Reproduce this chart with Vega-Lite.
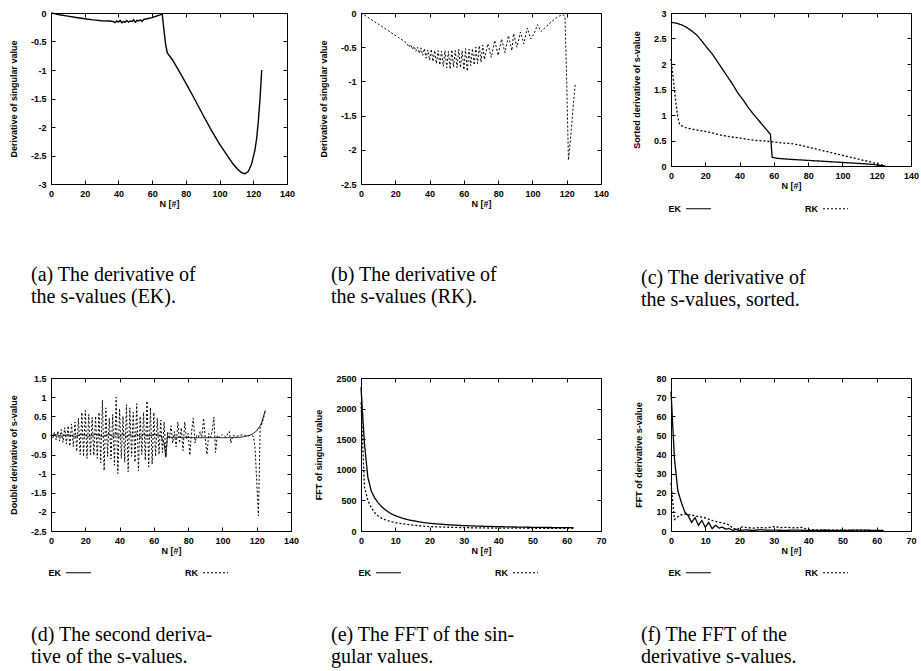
{
  "$schema": "https://vega.github.io/schema/vega-lite/v6.json",
  "padding": {"left": 8, "top": 8, "right": 2, "bottom": 2},
  "background": "white",
  "columns": 3,
  "bounds": "flush",
  "spacing": {"row": 194, "column": 70},
  "resolve": {"scale": {"strokeDash": "independent"}, "legend": {"strokeDash": "independent"}},
  "datasets": {
    "a": [{"N":0,"v":0},{"N":2,"v":-0.01},{"N":5,"v":-0.03},{"N":10,"v":-0.055},{"N":15,"v":-0.08},{"N":20,"v":-0.1},{"N":25,"v":-0.12},{"N":30,"v":-0.135},{"N":35,"v":-0.14},{"N":37,"v":-0.15},{"N":38,"v":-0.17},{"N":39,"v":-0.14},{"N":40,"v":-0.16},{"N":41,"v":-0.13},{"N":42,"v":-0.17},{"N":43,"v":-0.15},{"N":44,"v":-0.16},{"N":45,"v":-0.13},{"N":46,"v":-0.16},{"N":47,"v":-0.14},{"N":48,"v":-0.15},{"N":49,"v":-0.12},{"N":50,"v":-0.16},{"N":51,"v":-0.13},{"N":52,"v":-0.14},{"N":53,"v":-0.12},{"N":54,"v":-0.15},{"N":55,"v":-0.11},{"N":57,"v":-0.1},{"N":60,"v":-0.08},{"N":63,"v":-0.05},{"N":66,"v":-0.02},{"N":67,"v":-0.3},{"N":68,"v":-0.55},{"N":69,"v":-0.7},{"N":72,"v":-0.82},{"N":76,"v":-1.02},{"N":80,"v":-1.23},{"N":85,"v":-1.5},{"N":90,"v":-1.78},{"N":95,"v":-2.05},{"N":100,"v":-2.3},{"N":105,"v":-2.52},{"N":108,"v":-2.65},{"N":111,"v":-2.75},{"N":113,"v":-2.8},{"N":115,"v":-2.82},{"N":117,"v":-2.78},{"N":119,"v":-2.65},{"N":121,"v":-2.4},{"N":122,"v":-2.2},{"N":123,"v":-1.9},{"N":124,"v":-1.5},{"N":125,"v":-1.0}],
    "b": [{"N":0,"v":0},{"N":2,"v":-0.03},{"N":5,"v":-0.08},{"N":8,"v":-0.13},{"N":10,"v":-0.16},{"N":13,"v":-0.21},{"N":16,"v":-0.26},{"N":19,"v":-0.31},{"N":22,"v":-0.36},{"N":25,"v":-0.41},{"N":27,"v":-0.45},{"N":28,"v":-0.5},{"N":29,"v":-0.46},{"N":30,"v":-0.53},{"N":31,"v":-0.49},{"N":32,"v":-0.56},{"N":33,"v":-0.5},{"N":34,"v":-0.59},{"N":35,"v":-0.51},{"N":36,"v":-0.62},{"N":37,"v":-0.52},{"N":38,"v":-0.66},{"N":39,"v":-0.54},{"N":40,"v":-0.69},{"N":41,"v":-0.53},{"N":42,"v":-0.71},{"N":43,"v":-0.55},{"N":44,"v":-0.74},{"N":45,"v":-0.55},{"N":46,"v":-0.76},{"N":47,"v":-0.56},{"N":48,"v":-0.78},{"N":49,"v":-0.55},{"N":50,"v":-0.8},{"N":51,"v":-0.56},{"N":52,"v":-0.82},{"N":53,"v":-0.54},{"N":54,"v":-0.79},{"N":55,"v":-0.55},{"N":56,"v":-0.8},{"N":57,"v":-0.53},{"N":58,"v":-0.8},{"N":59,"v":-0.55},{"N":60,"v":-0.83},{"N":61,"v":-0.52},{"N":62,"v":-0.85},{"N":63,"v":-0.53},{"N":64,"v":-0.77},{"N":65,"v":-0.52},{"N":66,"v":-0.76},{"N":67,"v":-0.5},{"N":68,"v":-0.74},{"N":69,"v":-0.48},{"N":70,"v":-0.72},{"N":71,"v":-0.47},{"N":72,"v":-0.68},{"N":74,"v":-0.45},{"N":76,"v":-0.65},{"N":78,"v":-0.4},{"N":80,"v":-0.62},{"N":82,"v":-0.38},{"N":84,"v":-0.58},{"N":86,"v":-0.33},{"N":88,"v":-0.55},{"N":89,"v":-0.3},{"N":91,"v":-0.5},{"N":93,"v":-0.28},{"N":95,"v":-0.45},{"N":97,"v":-0.22},{"N":99,"v":-0.38},{"N":101,"v":-0.3},{"N":103,"v":-0.17},{"N":105,"v":-0.27},{"N":108,"v":-0.2},{"N":111,"v":-0.13},{"N":114,"v":-0.07},{"N":116,"v":-0.04},{"N":118,"v":-0.03},{"N":119,"v":-0.05},{"N":120,"v":-1.0},{"N":121,"v":-2.15},{"N":122,"v":-1.9},{"N":123,"v":-1.6},{"N":124,"v":-1.3},{"N":125,"v":-1.03}],
    "c": [{"s":"EK","N":0,"v":2.82},{"s":"EK","N":3,"v":2.8},{"s":"EK","N":6,"v":2.77},{"s":"EK","N":9,"v":2.72},{"s":"EK","N":12,"v":2.65},{"s":"EK","N":15,"v":2.57},{"s":"EK","N":18,"v":2.45},{"s":"EK","N":21,"v":2.32},{"s":"EK","N":24,"v":2.2},{"s":"EK","N":27,"v":2.05},{"s":"EK","N":30,"v":1.9},{"s":"EK","N":33,"v":1.75},{"s":"EK","N":36,"v":1.6},{"s":"EK","N":39,"v":1.43},{"s":"EK","N":42,"v":1.3},{"s":"EK","N":45,"v":1.15},{"s":"EK","N":48,"v":1.02},{"s":"EK","N":51,"v":0.9},{"s":"EK","N":54,"v":0.78},{"s":"EK","N":57,"v":0.66},{"s":"EK","N":58,"v":0.62},{"s":"EK","N":59,"v":0.17},{"s":"EK","N":62,"v":0.15},{"s":"EK","N":70,"v":0.13},{"s":"EK","N":80,"v":0.11},{"s":"EK","N":90,"v":0.09},{"s":"EK","N":100,"v":0.07},{"s":"EK","N":110,"v":0.05},{"s":"EK","N":118,"v":0.03},{"s":"EK","N":122,"v":0.01},{"s":"EK","N":125,"v":0.0},
      {"s":"RK","N":0,"v":2.1},{"s":"RK","N":1,"v":1.8},{"s":"RK","N":2,"v":1.5},{"s":"RK","N":3,"v":1.2},{"s":"RK","N":4,"v":0.95},{"s":"RK","N":5,"v":0.82},{"s":"RK","N":6,"v":0.79},{"s":"RK","N":8,"v":0.76},{"s":"RK","N":10,"v":0.74},{"s":"RK","N":13,"v":0.72},{"s":"RK","N":16,"v":0.7},{"s":"RK","N":20,"v":0.68},{"s":"RK","N":25,"v":0.64},{"s":"RK","N":30,"v":0.6},{"s":"RK","N":35,"v":0.57},{"s":"RK","N":40,"v":0.55},{"s":"RK","N":45,"v":0.52},{"s":"RK","N":50,"v":0.5},{"s":"RK","N":55,"v":0.49},{"s":"RK","N":60,"v":0.47},{"s":"RK","N":65,"v":0.45},{"s":"RK","N":70,"v":0.44},{"s":"RK","N":75,"v":0.41},{"s":"RK","N":80,"v":0.37},{"s":"RK","N":85,"v":0.33},{"s":"RK","N":90,"v":0.29},{"s":"RK","N":95,"v":0.25},{"s":"RK","N":100,"v":0.21},{"s":"RK","N":105,"v":0.17},{"s":"RK","N":110,"v":0.13},{"s":"RK","N":115,"v":0.09},{"s":"RK","N":120,"v":0.05},{"s":"RK","N":123,"v":0.02},{"s":"RK","N":125,"v":0.0}],
    "d": [{"s":"EK","N":0,"v":0},{"s":"EK","N":3,"v":0.02},{"s":"EK","N":6,"v":-0.02},{"s":"EK","N":10,"v":0.02},{"s":"EK","N":14,"v":-0.03},{"s":"EK","N":18,"v":0.03},{"s":"EK","N":22,"v":-0.03},{"s":"EK","N":26,"v":0.03},{"s":"EK","N":30,"v":-0.03},{"s":"EK","N":34,"v":0.04},{"s":"EK","N":36,"v":-0.04},{"s":"EK","N":38,"v":0.05},{"s":"EK","N":40,"v":-0.05},{"s":"EK","N":42,"v":0.05},{"s":"EK","N":44,"v":-0.05},{"s":"EK","N":46,"v":0.04},{"s":"EK","N":48,"v":-0.04},{"s":"EK","N":50,"v":0.04},{"s":"EK","N":52,"v":-0.04},{"s":"EK","N":54,"v":0.03},{"s":"EK","N":56,"v":-0.02},{"s":"EK","N":60,"v":0.02},{"s":"EK","N":64,"v":0.0},{"s":"EK","N":66,"v":-0.2},{"s":"EK","N":67,"v":-0.57},{"s":"EK","N":68,"v":0.0},{"s":"EK","N":69,"v":-0.05},{"s":"EK","N":75,"v":-0.05},{"s":"EK","N":85,"v":-0.06},{"s":"EK","N":95,"v":-0.06},{"s":"EK","N":105,"v":-0.06},{"s":"EK","N":110,"v":-0.05},{"s":"EK","N":113,"v":-0.03},{"s":"EK","N":116,"v":0.0},{"s":"EK","N":118,"v":0.05},{"s":"EK","N":120,"v":0.12},{"s":"EK","N":122,"v":0.25},{"s":"EK","N":123,"v":0.35},{"s":"EK","N":124,"v":0.5},{"s":"EK","N":125,"v":0.65},
      {"s":"RK","N":0,"v":0},{"s":"RK","N":1,"v":-0.08},{"s":"RK","N":2,"v":0.08},{"s":"RK","N":3,"v":-0.12},{"s":"RK","N":4,"v":0.12},{"s":"RK","N":5,"v":-0.15},{"s":"RK","N":6,"v":0.15},{"s":"RK","N":7,"v":-0.18},{"s":"RK","N":8,"v":0.2},{"s":"RK","N":9,"v":-0.22},{"s":"RK","N":10,"v":0.25},{"s":"RK","N":11,"v":-0.28},{"s":"RK","N":12,"v":0.3},{"s":"RK","N":13,"v":-0.3},{"s":"RK","N":14,"v":0.35},{"s":"RK","N":15,"v":-0.42},{"s":"RK","N":16,"v":0.45},{"s":"RK","N":17,"v":-0.5},{"s":"RK","N":18,"v":0.6},{"s":"RK","N":19,"v":-0.55},{"s":"RK","N":20,"v":0.65},{"s":"RK","N":21,"v":-0.6},{"s":"RK","N":22,"v":0.55},{"s":"RK","N":23,"v":-0.5},{"s":"RK","N":24,"v":0.47},{"s":"RK","N":25,"v":-0.52},{"s":"RK","N":26,"v":0.5},{"s":"RK","N":27,"v":-0.6},{"s":"RK","N":28,"v":0.6},{"s":"RK","N":29,"v":-0.72},{"s":"RK","N":30,"v":0.92},{"s":"RK","N":31,"v":-0.92},{"s":"RK","N":32,"v":0.72},{"s":"RK","N":33,"v":-0.55},{"s":"RK","N":34,"v":0.45},{"s":"RK","N":35,"v":-0.62},{"s":"RK","N":36,"v":0.55},{"s":"RK","N":37,"v":-0.78},{"s":"RK","N":38,"v":1.0},{"s":"RK","N":39,"v":-1.0},{"s":"RK","N":40,"v":0.7},{"s":"RK","N":41,"v":-0.6},{"s":"RK","N":42,"v":0.5},{"s":"RK","N":43,"v":-0.7},{"s":"RK","N":44,"v":0.8},{"s":"RK","N":45,"v":-0.95},{"s":"RK","N":46,"v":0.72},{"s":"RK","N":47,"v":-0.55},{"s":"RK","N":48,"v":0.6},{"s":"RK","N":49,"v":-0.7},{"s":"RK","N":50,"v":0.83},{"s":"RK","N":51,"v":-0.93},{"s":"RK","N":52,"v":0.5},{"s":"RK","N":53,"v":-0.5},{"s":"RK","N":54,"v":0.6},{"s":"RK","N":55,"v":-0.65},{"s":"RK","N":56,"v":0.9},{"s":"RK","N":57,"v":-0.82},{"s":"RK","N":58,"v":0.72},{"s":"RK","N":59,"v":-0.75},{"s":"RK","N":60,"v":0.6},{"s":"RK","N":61,"v":-0.55},{"s":"RK","N":62,"v":0.45},{"s":"RK","N":63,"v":-0.5},{"s":"RK","N":64,"v":0.4},{"s":"RK","N":65,"v":-0.45},{"s":"RK","N":66,"v":0.35},{"s":"RK","N":67,"v":-0.55},{"s":"RK","N":68,"v":0.1},{"s":"RK","N":69,"v":-0.1},{"s":"RK","N":70,"v":0.25},{"s":"RK","N":71,"v":-0.2},{"s":"RK","N":72,"v":0.1},{"s":"RK","N":73,"v":-0.3},{"s":"RK","N":74,"v":0.35},{"s":"RK","N":75,"v":-0.2},{"s":"RK","N":76,"v":0.2},{"s":"RK","N":77,"v":-0.4},{"s":"RK","N":78,"v":0.35},{"s":"RK","N":79,"v":-0.1},{"s":"RK","N":80,"v":0.05},{"s":"RK","N":81,"v":-0.52},{"s":"RK","N":82,"v":0.1},{"s":"RK","N":83,"v":0.45},{"s":"RK","N":84,"v":-0.2},{"s":"RK","N":85,"v":0.0},{"s":"RK","N":86,"v":-0.05},{"s":"RK","N":87,"v":0.1},{"s":"RK","N":88,"v":-0.05},{"s":"RK","N":89,"v":0.45},{"s":"RK","N":90,"v":-0.1},{"s":"RK","N":91,"v":-0.5},{"s":"RK","N":92,"v":0.05},{"s":"RK","N":93,"v":-0.05},{"s":"RK","N":94,"v":0.1},{"s":"RK","N":95,"v":0.48},{"s":"RK","N":96,"v":-0.45},{"s":"RK","N":97,"v":0.0},{"s":"RK","N":98,"v":-0.05},{"s":"RK","N":100,"v":0.02},{"s":"RK","N":102,"v":-0.05},{"s":"RK","N":104,"v":0.1},{"s":"RK","N":105,"v":-0.2},{"s":"RK","N":106,"v":0.0},{"s":"RK","N":108,"v":-0.03},{"s":"RK","N":110,"v":0.0},{"s":"RK","N":112,"v":0.02},{"s":"RK","N":114,"v":-0.02},{"s":"RK","N":116,"v":0.0},{"s":"RK","N":118,"v":-0.02},{"s":"RK","N":119,"v":-0.3},{"s":"RK","N":120,"v":-1.2},{"s":"RK","N":121,"v":-2.1},{"s":"RK","N":122,"v":0.2},{"s":"RK","N":123,"v":0.3},{"s":"RK","N":124,"v":0.45},{"s":"RK","N":125,"v":0.65}],
    "e": [{"s":"EK","N":0,"v":2350},{"s":"EK","N":1,"v":1430},{"s":"EK","N":2,"v":880},{"s":"EK","N":3,"v":650},{"s":"EK","N":4,"v":540},{"s":"EK","N":5,"v":460},{"s":"EK","N":6,"v":400},{"s":"EK","N":7,"v":350},{"s":"EK","N":8,"v":310},{"s":"EK","N":9,"v":275},{"s":"EK","N":10,"v":250},{"s":"EK","N":12,"v":210},{"s":"EK","N":14,"v":180},{"s":"EK","N":16,"v":160},{"s":"EK","N":18,"v":140},{"s":"EK","N":20,"v":126},{"s":"EK","N":23,"v":112},{"s":"EK","N":26,"v":100},{"s":"EK","N":30,"v":88},{"s":"EK","N":35,"v":78},{"s":"EK","N":40,"v":71},{"s":"EK","N":45,"v":65},{"s":"EK","N":50,"v":60},{"s":"EK","N":55,"v":57},{"s":"EK","N":60,"v":55},{"s":"EK","N":62,"v":55},
      {"s":"RK","N":0,"v":2100},{"s":"RK","N":1,"v":720},{"s":"RK","N":2,"v":500},{"s":"RK","N":3,"v":380},{"s":"RK","N":4,"v":300},{"s":"RK","N":5,"v":245},{"s":"RK","N":6,"v":210},{"s":"RK","N":7,"v":185},{"s":"RK","N":8,"v":165},{"s":"RK","N":9,"v":150},{"s":"RK","N":10,"v":138},{"s":"RK","N":12,"v":118},{"s":"RK","N":14,"v":103},{"s":"RK","N":16,"v":92},{"s":"RK","N":18,"v":80},{"s":"RK","N":20,"v":71},{"s":"RK","N":25,"v":62},{"s":"RK","N":30,"v":55},{"s":"RK","N":35,"v":50},{"s":"RK","N":40,"v":48},{"s":"RK","N":45,"v":46},{"s":"RK","N":50,"v":45},{"s":"RK","N":55,"v":44},{"s":"RK","N":60,"v":44},{"s":"RK","N":62,"v":44}],
    "f": [{"s":"EK","N":0,"v":73},{"s":"EK","N":1,"v":38},{"s":"EK","N":2,"v":21},{"s":"EK","N":3,"v":15},{"s":"EK","N":4,"v":10},{"s":"EK","N":5,"v":8},{"s":"EK","N":6,"v":4.5},{"s":"EK","N":7,"v":7},{"s":"EK","N":8,"v":3},{"s":"EK","N":9,"v":5.5},{"s":"EK","N":10,"v":2},{"s":"EK","N":11,"v":4.5},{"s":"EK","N":12,"v":1.2},{"s":"EK","N":13,"v":3},{"s":"EK","N":14,"v":1.5},{"s":"EK","N":15,"v":2},{"s":"EK","N":16,"v":1},{"s":"EK","N":17,"v":1.3},{"s":"EK","N":18,"v":0.3},{"s":"EK","N":19,"v":0.8},{"s":"EK","N":20,"v":0.3},{"s":"EK","N":22,"v":0.6},{"s":"EK","N":24,"v":0.3},{"s":"EK","N":26,"v":0.7},{"s":"EK","N":28,"v":0.4},{"s":"EK","N":30,"v":0.5},{"s":"EK","N":33,"v":0.3},{"s":"EK","N":36,"v":0.5},{"s":"EK","N":40,"v":0.3},{"s":"EK","N":45,"v":0.4},{"s":"EK","N":50,"v":0.3},{"s":"EK","N":55,"v":0.5},{"s":"EK","N":60,"v":0.3},{"s":"EK","N":62,"v":0.3},
      {"s":"RK","N":0,"v":25},{"s":"RK","N":1,"v":6},{"s":"RK","N":2,"v":7.5},{"s":"RK","N":3,"v":8.5},{"s":"RK","N":4,"v":8.8},{"s":"RK","N":5,"v":8.5},{"s":"RK","N":6,"v":8.3},{"s":"RK","N":7,"v":8},{"s":"RK","N":8,"v":7.5},{"s":"RK","N":9,"v":7.2},{"s":"RK","N":10,"v":6.8},{"s":"RK","N":11,"v":6.2},{"s":"RK","N":12,"v":5.5},{"s":"RK","N":13,"v":5},{"s":"RK","N":14,"v":4.6},{"s":"RK","N":15,"v":4.2},{"s":"RK","N":16,"v":3.8},{"s":"RK","N":17,"v":3.2},{"s":"RK","N":18,"v":1.5},{"s":"RK","N":19,"v":0.8},{"s":"RK","N":20,"v":1.5},{"s":"RK","N":21,"v":2.3},{"s":"RK","N":22,"v":1.8},{"s":"RK","N":24,"v":1.5},{"s":"RK","N":26,"v":1.8},{"s":"RK","N":28,"v":1.6},{"s":"RK","N":30,"v":2.3},{"s":"RK","N":32,"v":1.8},{"s":"RK","N":34,"v":1.9},{"s":"RK","N":36,"v":1.6},{"s":"RK","N":38,"v":1.9},{"s":"RK","N":40,"v":0.8},{"s":"RK","N":43,"v":0.5},{"s":"RK","N":46,"v":0.4},{"s":"RK","N":50,"v":0.4},{"s":"RK","N":55,"v":0.3},{"s":"RK","N":60,"v":0.2},{"s":"RK","N":62,"v":0.1}]
  },
  "concat": [
    {
      "width": 236, "height": 171,
      "data": {"name": "a"},
      "title": {"text": ["(a) The derivative of", "the s-values (EK)."], "dx": -20, "offset": 57},
      "layer": [
        {"mark": {"type": "line", "color": "black", "strokeWidth": 1.4},
         "encoding": {
           "x": {"field": "N", "type": "quantitative", "scale": {"domain": [0, 140]}, "axis": {"title": "N [#]", "values": [0,20,40,60,80,100,120,140]}},
           "y": {"field": "v", "type": "quantitative", "scale": {"domain": [-3, 0]}, "axis": {"title": "Derivative of singular value", "values": [-3,-2.5,-2,-1.5,-1,-0.5,0]}}
         }},
        {"mark": {"type": "line", "opacity": 0},
         "encoding": {
           "x": {"field": "N", "type": "quantitative", "scale": {"domain": [0, 140]}, "axis": {"orient": "top", "labels": false, "title": null, "values": [0,20,40,60,80,100,120,140]}},
           "y": {"field": "v", "type": "quantitative", "scale": {"domain": [-3, 0]}, "axis": {"orient": "right", "labels": false, "title": null, "values": [-3,-2.5,-2,-1.5,-1,-0.5,0]}}
         }}
      ],
      "resolve": {"axis": {"x": "independent", "y": "independent"}}
    },
    {
      "width": 240, "height": 171,
      "data": {"name": "b"},
      "title": {"text": ["(b) The derivative of", "the s-values (RK)."], "dx": -30, "offset": 57},
      "layer": [
        {"mark": {"type": "line", "color": "black", "strokeWidth": 1, "strokeDash": [2, 2]},
         "encoding": {
           "x": {"field": "N", "type": "quantitative", "scale": {"domain": [0, 140]}, "axis": {"title": "N [#]", "values": [0,20,40,60,80,100,120,140]}},
           "y": {"field": "v", "type": "quantitative", "scale": {"domain": [-2.5, 0]}, "axis": {"title": "Derivative of singular value", "values": [-2.5,-2,-1.5,-1,-0.5,0]}}
         }},
        {"mark": {"type": "line", "opacity": 0},
         "encoding": {
           "x": {"field": "N", "type": "quantitative", "scale": {"domain": [0, 140]}, "axis": {"orient": "top", "labels": false, "title": null, "values": [0,20,40,60,80,100,120,140]}},
           "y": {"field": "v", "type": "quantitative", "scale": {"domain": [-2.5, 0]}, "axis": {"orient": "right", "labels": false, "title": null, "values": [-2.5,-2,-1.5,-1,-0.5,0]}}
         }}
      ],
      "resolve": {"axis": {"x": "independent", "y": "independent"}}
    },
    {
      "width": 240, "height": 153,
      "data": {"name": "c"},
      "title": {"text": ["(c) The derivative of", "the s-values, sorted."], "dx": -30, "offset": 54},
      "layer": [
        {"mark": {"type": "line", "color": "black", "strokeWidth": 1.3},
         "encoding": {
           "x": {"field": "N", "type": "quantitative", "scale": {"domain": [0, 140]}, "axis": {"title": "N [#]", "values": [0,20,40,60,80,100,120,140]}},
           "y": {"field": "v", "type": "quantitative", "scale": {"domain": [0, 3]}, "axis": {"title": "Sorted derivative of s-value", "values": [0,0.5,1,1.5,2,2.5,3]}},
           "strokeDash": {"field": "s", "type": "nominal", "scale": {"domain": ["EK", "RK"], "range": [[1, 0], [2, 2]]}, "legend": {"title": null, "orient": "none", "legendX": 14, "legendY": 182}}
         }},
        {"mark": {"type": "line", "opacity": 0},
         "encoding": {
           "x": {"field": "N", "type": "quantitative", "scale": {"domain": [0, 140]}, "axis": {"orient": "top", "labels": false, "title": null, "values": [0,20,40,60,80,100,120,140]}},
           "y": {"field": "v", "type": "quantitative", "scale": {"domain": [0, 3]}, "axis": {"orient": "right", "labels": false, "title": null, "values": [0,0.5,1,1.5,2,2.5,3]}}
         }}
      ],
      "resolve": {"axis": {"x": "independent", "y": "independent"}}
    },
    {
      "width": 240, "height": 153,
      "data": {"name": "d"},
      "title": {"text": ["(d) The second deriva-", "tive of the s-values."], "dx": -20, "offset": 47},
      "layer": [
        {"mark": {"type": "line", "color": "black", "strokeWidth": 1},
         "encoding": {
           "x": {"field": "N", "type": "quantitative", "scale": {"domain": [0, 140]}, "axis": {"title": "N [#]", "values": [0,20,40,60,80,100,120,140]}},
           "y": {"field": "v", "type": "quantitative", "scale": {"domain": [-2.5, 1.5]}, "axis": {"title": "Double derivative of s-value", "values": [-2.5,-2,-1.5,-1,-0.5,0,0.5,1,1.5]}},
           "strokeDash": {"field": "s", "type": "nominal", "scale": {"domain": ["EK", "RK"], "range": [[1, 0], [2, 2]]}, "legend": {"title": null, "orient": "none", "legendX": 14, "legendY": 181}}
         }},
        {"mark": {"type": "line", "opacity": 0},
         "encoding": {
           "x": {"field": "N", "type": "quantitative", "scale": {"domain": [0, 140]}, "axis": {"orient": "top", "labels": false, "title": null, "values": [0,20,40,60,80,100,120,140]}},
           "y": {"field": "v", "type": "quantitative", "scale": {"domain": [-2.5, 1.5]}, "axis": {"orient": "right", "labels": false, "title": null, "values": [-2.5,-2,-1.5,-1,-0.5,0,0.5,1,1.5]}}
         }}
      ],
      "resolve": {"axis": {"x": "independent", "y": "independent"}}
    },
    {
      "width": 240, "height": 153,
      "data": {"name": "e"},
      "title": {"text": ["(e) The FFT of the sin-", "gular values."], "dx": -30, "offset": 47},
      "layer": [
        {"mark": {"type": "line", "color": "black", "strokeWidth": 1.3},
         "encoding": {
           "x": {"field": "N", "type": "quantitative", "scale": {"domain": [0, 70]}, "axis": {"title": "N [#]", "values": [0,10,20,30,40,50,60,70]}},
           "y": {"field": "v", "type": "quantitative", "scale": {"domain": [0, 2500]}, "axis": {"title": "FFT of singular value", "values": [0,500,1000,1500,2000,2500]}},
           "strokeDash": {"field": "s", "type": "nominal", "scale": {"domain": ["EK", "RK"], "range": [[1, 0], [2, 2]]}, "legend": {"title": null, "orient": "none", "legendX": 14, "legendY": 181}}
         }},
        {"mark": {"type": "line", "opacity": 0},
         "encoding": {
           "x": {"field": "N", "type": "quantitative", "scale": {"domain": [0, 70]}, "axis": {"orient": "top", "labels": false, "title": null, "values": [0,10,20,30,40,50,60,70]}},
           "y": {"field": "v", "type": "quantitative", "scale": {"domain": [0, 2500]}, "axis": {"orient": "right", "labels": false, "title": null, "values": [0,500,1000,1500,2000,2500]}}
         }}
      ],
      "resolve": {"axis": {"x": "independent", "y": "independent"}}
    },
    {
      "width": 240, "height": 153,
      "data": {"name": "f"},
      "title": {"text": ["(f) The FFT of the", "derivative s-values."], "dx": -30, "offset": 47},
      "layer": [
        {"mark": {"type": "line", "color": "black", "strokeWidth": 1.3},
         "encoding": {
           "x": {"field": "N", "type": "quantitative", "scale": {"domain": [0, 70]}, "axis": {"title": "N [#]", "values": [0,10,20,30,40,50,60,70]}},
           "y": {"field": "v", "type": "quantitative", "scale": {"domain": [0, 80]}, "axis": {"title": "FFT of derivative s-value", "values": [0,10,20,30,40,50,60,70,80]}},
           "strokeDash": {"field": "s", "type": "nominal", "scale": {"domain": ["EK", "RK"], "range": [[1, 0], [2, 2]]}, "legend": {"title": null, "orient": "none", "legendX": 14, "legendY": 181}}
         }},
        {"mark": {"type": "line", "opacity": 0},
         "encoding": {
           "x": {"field": "N", "type": "quantitative", "scale": {"domain": [0, 70]}, "axis": {"orient": "top", "labels": false, "title": null, "values": [0,10,20,30,40,50,60,70]}},
           "y": {"field": "v", "type": "quantitative", "scale": {"domain": [0, 80]}, "axis": {"orient": "right", "labels": false, "title": null, "values": [0,10,20,30,40,50,60,70,80]}}
         }}
      ],
      "resolve": {"axis": {"x": "independent", "y": "independent"}}
    }
  ],
  "config": {
    "view": {"stroke": "black", "strokeWidth": 1},
    "axis": {"labelFont": "Liberation Sans", "labelFontWeight": "bold", "labelFontSize": 9, "labelColor": "black", "labelExpr": "'' + datum.value", "labelOverlap": false, "labelFlush": false, "titleFont": "Liberation Sans", "titleFontWeight": "bold", "titleFontSize": 9, "titleColor": "black", "grid": false, "domain": false, "tickColor": "black", "tickSize": -4, "tickWidth": 1, "labelPadding": 9},
    "axisX": {"titlePadding": 1},
    "axisY": {"titlePadding": 12},
    "legend": {"symbolType": "stroke", "symbolSize": 625, "symbolStrokeWidth": 1.2, "symbolStrokeColor": "black", "labelFont": "Liberation Sans", "labelFontWeight": "bold", "labelFontSize": 9, "labelColor": "black", "labelAlign": "right", "labelOffset": -31, "columnPadding": 91, "direction": "horizontal", "padding": 0},
    "title": {"orient": "bottom", "anchor": "start", "frame": "group", "font": "Liberation Serif", "fontSize": 20, "fontWeight": "normal", "color": "black", "lineHeight": 22}
  }
}
